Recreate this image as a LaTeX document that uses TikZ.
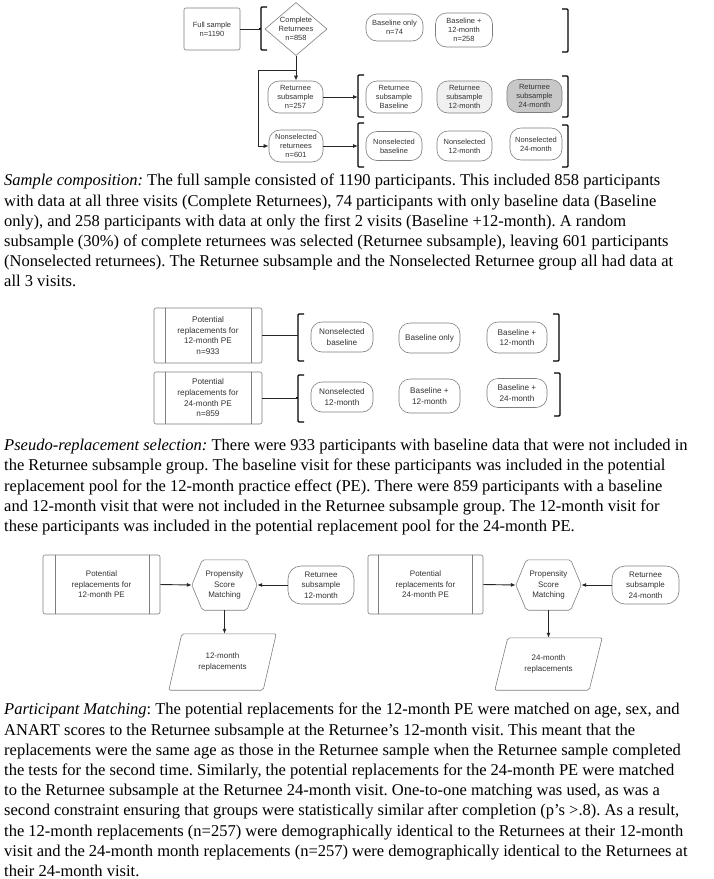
\documentclass[tikz,border=0pt]{standalone}
\usepackage{fontspec}
\setmainfont{Liberation Serif}[FakeStretch=1.0]
\setsansfont{Liberation Sans}
\usetikzlibrary{arrows.meta,shapes.geometric,calc}
\definecolor{edge}{HTML}{7F7F7F}
\definecolor{ink}{HTML}{333333}
\definecolor{fillA}{HTML}{F0F0F0}
\definecolor{fillB}{HTML}{C8C8C8}
\tikzset{
  labA/.style={font=\sffamily\fontsize{7.5}{9}\selectfont, text=ink, align=center, inner sep=0pt},
  labB/.style={font=\sffamily\fontsize{8.2}{10.7}\selectfont, text=ink, align=center, inner sep=0pt},
  labC/.style={font=\sffamily\fontsize{8}{10.4}\selectfont, text=ink, align=center, inner sep=0pt},
  sqbox/.style={draw=edge, line width=0.6pt, rounded corners=2pt},
  pill/.style={draw=edge, line width=0.6pt, rounded corners=11pt},
  outl/.style={draw=edge, line width=0.6pt, rounded corners=2pt},
  conn/.style={draw=black!85, line width=0.9pt},
  arr/.style={conn, -{Latex[length=5pt,width=4pt]}},
  brk/.style={draw=black, line width=1.2pt, rounded corners=1pt},
  para/.style={font=\fontsize{16.5}{20.2}\selectfont\frenchspacing, align=left, anchor=north west, inner sep=0pt, text=black}
}
\begin{document}
\begin{tikzpicture}[x=1pt,y=-1pt]
\useasboundingbox (0,0) rectangle (713,879);
\fill[white] (0,0) rectangle (713,879);

% ---------- top diagram ----------
\node[sqbox, labA, minimum width=56pt, minimum height=42pt] (full) at (212,29) {Full sample\\n=1190};
\node[diamond, draw=edge, line width=0.6pt, labA, minimum width=62pt, minimum height=53pt, aspect=1.17] (comp) at (296,29) {Complete\\Returnees\\n=858};
\node[pill, labA, minimum width=57pt, minimum height=27pt] (bo) at (394.5,27.5) {Baseline only\\n=74};
\node[pill, labA, minimum width=57pt, minimum height=34pt] (b12) at (464,30) {Baseline +\\12-month\\n=258};

\node[pill, labA, minimum width=55pt, minimum height=32pt] (rs) at (295.5,97) {Returnee\\subsample\\n=257};
\node[pill, labA, minimum width=56pt, minimum height=32pt] (rsb) at (394,97) {Returnee\\subsample\\Baseline};
\node[pill, labA, fill=fillA, minimum width=55pt, minimum height=32pt] (rs12) at (464.5,97) {Returnee\\subsample\\12-month};
\node[pill, labA, fill=fillB, minimum width=55pt, minimum height=33pt] (rs24) at (534.5,96) {Returnee\\subsample\\24-month};

\node[pill, labA, minimum width=54pt, minimum height=32pt] (nr) at (296,146) {Nonselected\\returnees\\n=601};
\node[pill, labA, minimum width=56pt, minimum height=29pt] (nb) at (394,146) {Nonselected\\baseline};
\node[pill, labA, minimum width=55pt, minimum height=30pt] (n12) at (464.5,146) {Nonselected\\12-month};
\node[pill, labA, minimum width=52pt, minimum height=32pt] (n24) at (536,144) {Nonselected\\24-month};

% brackets top
\draw[brk] (267,7) -- (261,7) -- (261,50) -- (267,50);
\draw[brk] (259,29) -- (261,29);
\coordinate (bk1) at (261,29);
\draw[brk] (562,9) -- (568,9) -- (568,52) -- (562,52);
\draw[brk] (364,75) -- (358,75) -- (358,117) -- (364,117);
\coordinate (bk2) at (358,97);
\draw[brk] (562,76) -- (568,76) -- (568,117) -- (562,117);
\draw[brk] (364,123) -- (358,123) -- (358,167) -- (364,167);
\coordinate (bk3) at (358,146);
\draw[brk] (562,125) -- (568,125) -- (568,167) -- (562,167);

\draw[conn] (full.east) -- (bk1);
\draw[arr] (comp.south) -- (comp.south |- rs.north);
\coordinate (jn) at (296,70);
\coordinate (jl) at (258,70);
\draw[arr] (jn) -- (jl) |- (nr.west);
\draw[arr] (rs.east) -- (bk2);
\draw[arr] (nr.east) -- (bk3);

% ---------- paragraph 1 ----------
\node[para] (t1) at (4,174) {\textit{Sample composition:} The full sample consisted of 1190 participants. This included 858 participants\\
with data at all three visits (Complete Returnees), 74 participants with only baseline data (Baseline\\
only), and 258 participants with data at only the first 2 visits (Baseline +12-month). A random\\
subsample (30\%) of complete returnees was selected (Returnee subsample), leaving 601 participants\\
(Nonselected returnees). The Returnee subsample and the Nonselected Returnee group all had data at\\
all 3 visits.};

% ---------- middle diagram ----------
\node[sqbox, labB, minimum width=108pt, minimum height=55pt] (p12) at (208,335.5) {Potential\\replacements for\\12-month PE\\n=933};
\draw[draw=edge, line width=0.6pt] ([xshift=12pt]p12.north west) -- ([xshift=12pt]p12.south west);
\draw[draw=edge, line width=0.6pt] ([xshift=-11pt]p12.north east) -- ([xshift=-11pt]p12.south east);
\node[sqbox, labB, minimum width=108pt, minimum height=52pt] (p24) at (208,398) {Potential\\replacements for\\24-month PE\\n=859};
\draw[draw=edge, line width=0.6pt] ([xshift=12pt]p24.north west) -- ([xshift=12pt]p24.south west);
\draw[draw=edge, line width=0.6pt] ([xshift=-11pt]p24.north east) -- ([xshift=-11pt]p24.south east);

\node[pill, labB, minimum width=62pt, minimum height=30pt] (m1) at (342,337) {Nonselected\\baseline};
\node[pill, labB, minimum width=61pt, minimum height=30pt] (m2) at (429.5,338) {Baseline only};
\node[pill, labB, minimum width=60pt, minimum height=31pt] (m3) at (517,337.5) {Baseline +\\12-month};
\node[pill, labB, minimum width=62pt, minimum height=30pt] (m4) at (342,397) {Nonselected\\12-month};
\node[pill, labB, minimum width=61pt, minimum height=34pt] (m5) at (429.5,396) {Baseline +\\12-month};
\node[pill, labB, minimum width=60pt, minimum height=29pt] (m6) at (517,393) {Baseline +\\24-month};

\draw[brk] (304,314) -- (298,314) -- (298,361) -- (304,361);
\draw[brk] (296,335.5) -- (298,335.5);
\coordinate (bk4) at (298,335.5);
\draw[brk] (553,314) -- (559,314) -- (559,361) -- (553,361);
\draw[brk] (304,375) -- (298,375) -- (298,422) -- (304,422);
\draw[brk] (296,398) -- (298,398);
\coordinate (bk5) at (298,398);
\draw[brk] (554,373) -- (560,373) -- (560,416) -- (554,416);

\draw[conn] (p12.east) -- (bk4);
\draw[conn] (p24.east) -- (bk5);

% ---------- paragraph 2 ----------
\node[para] (t2) at (4,439) {\textit{Pseudo-replacement selection:} There were 933 participants with baseline data that were not included in\\
the Returnee subsample group. The baseline visit for these participants was included in the potential\\
replacement pool for the 12-month practice effect (PE). There were 859 participants with a baseline\\
and 12-month visit that were not included in the Returnee subsample group. The 12-month visit for\\
these participants was included in the potential replacement pool for the 24-month PE.};

% ---------- bottom diagram ----------
\node[sqbox, labC, minimum width=117pt, minimum height=59pt] (q12) at (101.5,584.5) {Potential\\replacements for\\12-month PE};
\draw[draw=edge, line width=0.6pt] ([xshift=13pt]q12.north west) -- ([xshift=13pt]q12.south west);
\draw[draw=edge, line width=0.6pt] ([xshift=-11pt]q12.north east) -- ([xshift=-11pt]q12.south east);
\node[labC, minimum width=44pt, minimum height=50pt] (h1) at (224.5,585) {Propensity\\Score\\Matching};
\draw[outl] (h1.north west) -- (h1.north east) -- ([xshift=10.5pt]h1.east) -- (h1.south east) -- (h1.south west) -- ([xshift=-10.5pt]h1.west) -- cycle;
\coordinate (h1L) at ([xshift=-10.5pt]h1.west);
\coordinate (h1R) at ([xshift=10.5pt]h1.east);
\node[pill, labC, minimum width=66pt, minimum height=38pt, rounded corners=13pt] (r12) at (321,585) {Returnee\\subsample\\12-month};
\node[labC, minimum width=94pt, minimum height=56pt] (o12) at (222.5,662) {12-month\\replacements};
\draw[outl] ([xshift=6.5pt]o12.north west) -- ([xshift=6.5pt]o12.north east) -- ([xshift=-6.5pt]o12.south east) -- ([xshift=-6.5pt]o12.south west) -- cycle;
\draw[arr] (q12.east) -- (h1L);
\draw[arr] (r12.west) -- (h1R);
\draw[arr] (h1.south) -- (h1.south |- o12.north);

\node[sqbox, labC, minimum width=115pt, minimum height=59pt] (q24) at (425.5,584.5) {Potential\\replacements for\\24-month PE};
\draw[draw=edge, line width=0.6pt] ([xshift=11pt]q24.north west) -- ([xshift=11pt]q24.south west);
\draw[draw=edge, line width=0.6pt] ([xshift=-11pt]q24.north east) -- ([xshift=-11pt]q24.south east);
\node[labC, minimum width=44pt, minimum height=50pt] (h2) at (548.5,585) {Propensity\\Score\\Matching};
\draw[outl] (h2.north west) -- (h2.north east) -- ([xshift=10.5pt]h2.east) -- (h2.south east) -- (h2.south west) -- ([xshift=-10.5pt]h2.west) -- cycle;
\coordinate (h2L) at ([xshift=-10.5pt]h2.west);
\coordinate (h2R) at ([xshift=10.5pt]h2.east);
\node[pill, labC, minimum width=67pt, minimum height=38pt, rounded corners=13pt] (r24) at (645.5,585) {Returnee\\subsample\\24-month};
\node[labC, minimum width=94pt, minimum height=52pt] (o24) at (548.5,664) {24-month\\replacements};
\draw[outl] ([xshift=6.5pt]o24.north west) -- ([xshift=6.5pt]o24.north east) -- ([xshift=-6.5pt]o24.south east) -- ([xshift=-6.5pt]o24.south west) -- cycle;
\draw[arr] (q24.east) -- (h2L);
\draw[arr] (r24.west) -- (h2R);
\draw[arr] (h2.south) -- (h2.south |- o24.north);

% ---------- paragraph 3 ----------
\node[para] (t3) at (4,703) {\textit{Participant Matching}: The potential replacements for the 12-month PE were matched on age, sex, and\\
ANART scores to the Returnee subsample at the Returnee’s 12-month visit. This meant that the\\
replacements were the same age as those in the Returnee sample when the Returnee sample completed\\
the tests for the second time. Similarly, the potential replacements for the 24-month PE were matched\\
to the Returnee subsample at the Returnee 24-month visit. One-to-one matching was used, as was a\\
second constraint ensuring that groups were statistically similar after completion (p’s >.8). As a result,\\
the 12-month replacements (n=257) were demographically identical to the Returnees at their 12-month\\
visit and the 24-month month replacements (n=257) were demographically identical to the Returnees at\\
their 24-month visit.};
\end{tikzpicture}
\end{document}
